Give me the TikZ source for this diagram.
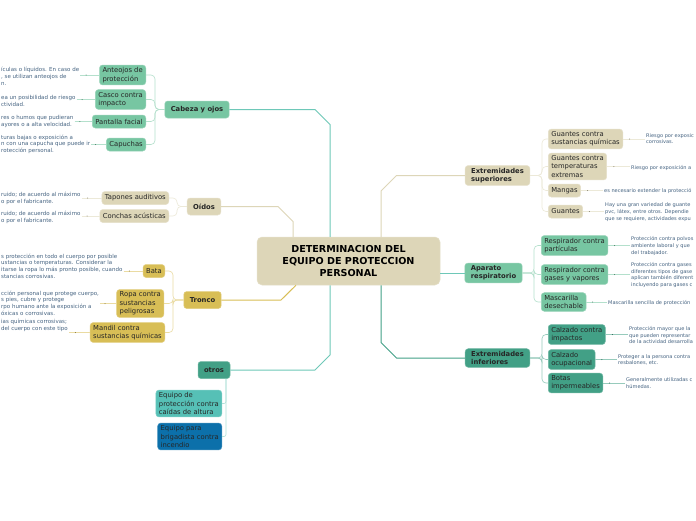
\documentclass[tikz,border=0pt]{standalone}
\usepackage{fontspec}
\setmainfont{DejaVu Sans}
\usepackage{xcolor}
\usetikzlibrary{arrows.meta,decorations.markings}

\definecolor{cbeige}{RGB}{221,214,184}
\definecolor{cmenta}{RGB}{119,198,162}
\definecolor{cmostaza}{RGB}{216,190,86}
\definecolor{cpetroleo}{RGB}{66,160,134}
\definecolor{cturquesa}{RGB}{86,192,182}
\definecolor{cazul}{RGB}{12,112,170}
\definecolor{clineateal}{RGB}{110,200,184}
\definecolor{cnota}{RGB}{70,100,130}

\tikzset{
  caja/.style={rounded corners=3pt,draw=#1!75!white,fill=#1,line width=0.5pt,text=black!85,
    inner xsep=3pt,inner ysep=2.5pt,minimum height=13pt,align=left,font=\fontsize{6.8}{8.3}\selectfont},
  rama/.style={caja=#1,font=\fontsize{6.8}{8.3}\selectfont\bfseries,inner xsep=6pt,minimum height=17pt},
  nota/.style={text=cnota,inner sep=1pt,align=left,anchor=north west,font=\fontsize{5.5}{6.8}\selectfont},
  notader/.style={nota,font=\fontsize{5.05}{6.8}\selectfont},
  tallo/.style={line width=1pt,#1},
  hijo/.style={line width=0.6pt,rounded corners=4pt,#1!55!white},
  enlace/.style={line width=0.5pt,#1!55!white,postaction={decorate},
    decoration={markings,mark=at position 0.3 with {\fill[#1!60!black] circle (0.5pt);}}}
}

\begin{document}
\begin{tikzpicture}[x=1pt,y=-1pt]
\useasboundingbox (0,0) rectangle (696,520);
\fill[white] (0,0) rectangle (696,520);

% centro
\node[caja=cbeige,rounded corners=5pt,text=black,align=center,minimum width=183pt,minimum height=48pt,
  font=\fontsize{9.6}{12}\selectfont\bfseries] (centro) at (348.5,261) {DETERMINACION DEL\\EQUIPO DE PROTECCION\\PERSONAL};

% ramas
\node[rama=cmenta] (cabeza) at (197,109.5) {Cabeza y ojos};
\node[rama=cbeige] (oidos) at (204,206.5) {Oídos};
\node[rama=cmostaza] (tronco) at (202.5,300) {Tronco};
\node[rama=cpetroleo] (otros) at (214,370) {otros};
\node[rama=cbeige] (extsup) at (497.5,175.5) {Extremidades\\superiores};
\node[rama=cmenta] (aparato) at (493.5,273) {Aparato\\respiratorio};
\node[rama=cpetroleo] (extinf) at (497.5,358) {Extremidades\\inferiores};

\draw[tallo=clineateal] (cabeza.east)--(315,109.5)--(330,124.5)--(330,0 |- centro.north);
\draw[tallo=cbeige] (oidos.east)--(278,206.5)--(293,221.5)--(293,0 |- centro.north);
\draw[tallo=cmostaza] (tronco.east)--(281,300)--(296,0 |- centro.south);
\draw[tallo=clineateal] (otros.east)--(315,370)--(330,355)--(330,0 |- centro.south);
\draw[tallo=cbeige] (381,0 |- centro.north)--(381,191)--(396.5,175.5)--(extsup.west);
\draw[tallo=clineateal] (centro.east |- aparato.west)--(aparato.west);
\draw[tallo=cpetroleo] (381,0 |- centro.south)--(381,342.5)--(396.5,358)--(extinf.west);

% hojas izquierda
\node[caja=cmenta,anchor=east] (anteojos) at (146,75) {Anteojos de\\protección};
\node[caja=cmenta,anchor=east] (casco) at (146,99.5) {Casco contra\\impacto};
\node[caja=cmenta,anchor=east] (pantalla) at (146,121.5) {Pantalla facial};
\node[caja=cmenta,anchor=east] (capuchas) at (146,144.5) {Capuchas};
\node[caja=cbeige,anchor=east] (tapones) at (169,198) {Tapones auditivos};
\node[caja=cbeige,anchor=east] (conchas) at (169,216) {Conchas acústicas};
\node[caja=cmostaza,anchor=east] (bata) at (165,271) {Bata};
\node[caja=cmostaza,anchor=east] (ropa) at (164,303.5) {Ropa contra\\sustancias\\peligrosas};
\node[caja=cmostaza,anchor=east] (mandil) at (165,332.5) {Mandil contra\\sustancias químicas};
\node[caja=cturquesa,anchor=east] (caidas) at (222,403.5) {Equipo de\\protección contra\\caídas de altura};
\node[caja=cazul,anchor=east] (brigada) at (222,436.5) {Equipo para\\brigadista contra\\incendio};

\draw[hijo=cmenta] (cabeza.west)--(155,109.5)|-(anteojos.east);
\draw[hijo=cmenta] (cabeza.west)--(155,109.5)|-(casco.east);
\draw[hijo=cmenta] (cabeza.west)--(155,109.5)|-(pantalla.east);
\draw[hijo=cmenta] (cabeza.west)--(155,109.5)|-(capuchas.east);
\draw[hijo=cbeige] (oidos.west)--(177,206.5)|-(tapones.east);
\draw[hijo=cbeige] (oidos.west)--(177,206.5)|-(conchas.east);
\draw[hijo=cmostaza] (tronco.west)--(173,300)|-(bata.east);
\draw[hijo=cmostaza] (tronco.west)--(173,300)|-(ropa.east);
\draw[hijo=cmostaza] (tronco.west)--(173,300)|-(mandil.east);
\draw[hijo=clineateal,rounded corners=2pt] (226,0 |- otros.south)|-(caidas.east);
\draw[hijo=clineateal,rounded corners=2pt] (226,0 |- otros.south)|-(brigada.east);

% hojas derecha
\node[caja=cbeige,anchor=west] (guantesq) at (548,139) {Guantes contra\\sustancias químicas};
\node[caja=cbeige,anchor=west] (guantest) at (548,166.5) {Guantes contra\\temperaturas\\extremas};
\node[caja=cbeige,anchor=west] (mangas) at (548,190.5) {Mangas};
\node[caja=cbeige,anchor=west] (guantes) at (548,211.5) {Guantes};
\node[caja=cmenta,anchor=west] (respart) at (541,245.5) {Respirador contra\\partículas};
\node[caja=cmenta,anchor=west] (resgas) at (541,274.5) {Respirador contra\\gases y vapores};
\node[caja=cmenta,anchor=west] (mascarilla) at (541,302) {Mascarilla\\desechable};
\node[caja=cpetroleo,anchor=west] (calzimp) at (548,334.5) {Calzado contra\\impactos};
\node[caja=cpetroleo,anchor=west] (calzocu) at (548,359.5) {Calzado\\ocupacional};
\node[caja=cpetroleo,anchor=west] (botas) at (548,383) {Botas\\impermeables};

\draw[hijo=cbeige] (extsup.east)--(542,175.5)|-(guantesq.west);
\draw[hijo=cbeige] (extsup.east)--(542,175.5)|-(guantest.west);
\draw[hijo=cbeige] (extsup.east)--(542,175.5)|-(mangas.west);
\draw[hijo=cbeige] (extsup.east)--(542,175.5)|-(guantes.west);
\draw[hijo=cmenta] (aparato.east)--(534,273)|-(respart.west);
\draw[hijo=cmenta] (aparato.east)--(534,273)|-(resgas.west);
\draw[hijo=cmenta] (aparato.east)--(534,273)|-(mascarilla.west);
\draw[hijo=cpetroleo] (extinf.east)--(542,358)|-(calzimp.west);
\draw[hijo=cpetroleo] (extinf.east)--(542,358)|-(calzocu.west);
\draw[hijo=cpetroleo] (extinf.east)--(542,358)|-(botas.west);

% notas izquierda
\node[nota] (nanteojos) at (0,66) {ículas o líquidos. En caso de\\, se utilizan anteojos de\\n.};
\node[nota] (ncasco) at (0,94) {ea un posibilidad de riesgo\\ctividad.};
\node[nota] (npantalla) at (0,114) {res o humos que pudieran\\ayores o a alta velocidad.};
\node[nota] (ncapuchas) at (0,133.5) {turas bajas o exposición a\\n con una capucha que puede ir\\rotección personal.};
\node[nota] (ntapones) at (0,191) {ruido; de acuerdo al máximo\\o por el fabricante.};
\node[nota] (nconchas) at (0,210) {ruido; de acuerdo al máximo\\o por el fabricante.};
\node[nota] (nbata) at (0,252.5) {s protección en todo el cuerpo por posible\\ustancias o temperaturas. Considerar la\\itarse la ropa lo más pronto posible, cuando\\stancias corrosivas.};
\node[nota] (nropa) at (0,289.5) {cción personal que protege cuerpo,\\s pies, cubre y protege\\rpo humano ante la exposición a\\óxicas o corrosivas.};
\node[nota] (nmandil) at (0,318) {ias químicas corrosivas;\\ del cuerpo con este tipo};

\draw[enlace=cmenta] (nanteojos.east |- anteojos.west)--(anteojos.west);
\draw[enlace=cmenta] (ncasco.east |- casco.west)--(casco.west);
\draw[enlace=cmenta] (npantalla.east |- pantalla.west)--(pantalla.west);
\draw[enlace=cmenta] (ncapuchas.east |- capuchas.west)--(capuchas.west);
\draw[enlace=cbeige] (ntapones.east |- tapones.west)--(tapones.west);
\draw[enlace=cbeige] (nconchas.east |- conchas.west)--(conchas.west);
\draw[enlace=cmostaza] (nbata.east |- bata.west)--(bata.west);
\draw[enlace=cmostaza] (nropa.east |- ropa.west)--(ropa.west);
\draw[enlace=cmostaza] (nmandil.east |- mandil.west)--(mandil.west);

% notas derecha
\node[notader] (nguantesq) at (645,132) {Riesgo por exposic\\corrosivas.};
\node[notader] (nguantest) at (630,164) {Riesgo por exposición a};
\node[notader] (nmangas) at (603,187.5) {es necesario extender la protecció};
\node[notader] (nguantes) at (604,201.5) {Hay una gran variedad de guante\\pvc, látex, entre otros. Dependie\\que se requiere, actividades expu};
\node[notader] (nrespart) at (630,235.5) {Protección contra polvos\\ambiente laboral y que\\del trabajador.};
\node[notader] (nresgas) at (630,261) {Protección contra gases\\diferentes tipos de gase\\aplican también diferent\\incluyendo para gases c};
\node[notader] (nmascarilla) at (607,299) {Mascarilla sencilla de protección};
\node[notader] (ncalzimp) at (628,325) {Protección mayor que la\\que pueden representar\\de la actividad desarrolla};
\node[notader] (ncalzocu) at (617,353) {Proteger a la persona contra\\resbalones, etc.};
\node[notader] (nbotas) at (625,376.5) {Generalmente utilizadas c\\húmedas.};

\draw[enlace=cbeige] (guantesq.east)--(nguantesq.west |- guantesq.east);
\draw[enlace=cbeige] (guantest.east)--(nguantest.west |- guantest.east);
\draw[enlace=cbeige] (mangas.east)--(nmangas.west |- mangas.east);
\draw[enlace=cbeige] (guantes.east)--(nguantes.west |- guantes.east);
\draw[enlace=cmenta] (respart.east)--(nrespart.west |- respart.east);
\draw[enlace=cmenta] (resgas.east)--(nresgas.west |- resgas.east);
\draw[enlace=cmenta] (mascarilla.east)--(nmascarilla.west |- mascarilla.east);
\draw[enlace=cpetroleo] (calzimp.east)--(ncalzimp.west |- calzimp.east);
\draw[enlace=cpetroleo] (calzocu.east)--(ncalzocu.west |- calzocu.east);
\draw[enlace=cpetroleo] (botas.east)--(nbotas.west |- botas.east);
\end{tikzpicture}
\end{document}
